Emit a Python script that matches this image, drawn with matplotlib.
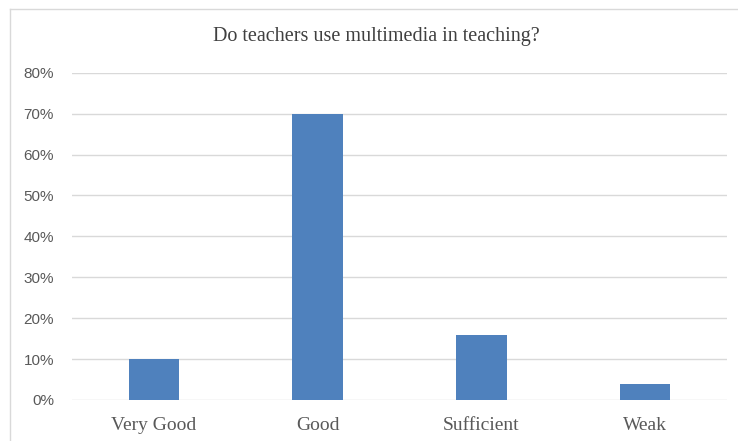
import matplotlib
matplotlib.use("Agg")
import matplotlib.pyplot as plt
from matplotlib.lines import Line2D
from matplotlib.ticker import PercentFormatter

# data
categories = ["Very Good", "Good", "Sufficient", "Weak"]
values = [0.10, 0.70, 0.16, 0.04]
yticks = [0, 0.1, 0.2, 0.3, 0.4, 0.5, 0.6, 0.7, 0.8]
title = "Do teachers use multimedia in teaching?"

fig = plt.figure(figsize=(7.38, 4.41), dpi=100)
ax = fig.add_axes([0.0976, 0.093, 0.8874, 0.742])

ax.bar(range(len(categories)), values, width=0.31, color="#4F81BD", zorder=3)

ax.set_xlim(-0.5, len(categories) - 0.5)
ax.set_ylim(0, 0.8)
ax.set_yticks(yticks)
ax.yaxis.set_major_formatter(PercentFormatter(1.0, decimals=0))
ax.set_xticks(range(len(categories)))
ax.set_xticklabels(categories, family="Liberation Serif", fontsize=14, color="#595959")
for lb in ax.get_yticklabels():
    lb.set_family("Liberation Sans")
    lb.set_fontsize(11)
    lb.set_color("#595959")

ax.grid(axis="y", color="#D9D9D9", linewidth=1, zorder=0)
ax.tick_params(axis="both", length=0)
ax.tick_params(axis="x", pad=12)
ax.tick_params(axis="y", pad=13)
for s in ax.spines.values():
    s.set_visible(False)

fig.text(0.51, 0.918, title, ha="center", va="center",
         family="Liberation Serif", fontsize=14.5, color="#404040")

# chart frame (cropped at right and bottom)
fig.add_artist(Line2D([0.0136, 1.0], [0.98, 0.98], color="#D9D9D9", lw=1))
fig.add_artist(Line2D([0.0136, 0.0136], [0.0, 0.98], color="#D9D9D9", lw=1))

fig.savefig("out.png", dpi=100)
